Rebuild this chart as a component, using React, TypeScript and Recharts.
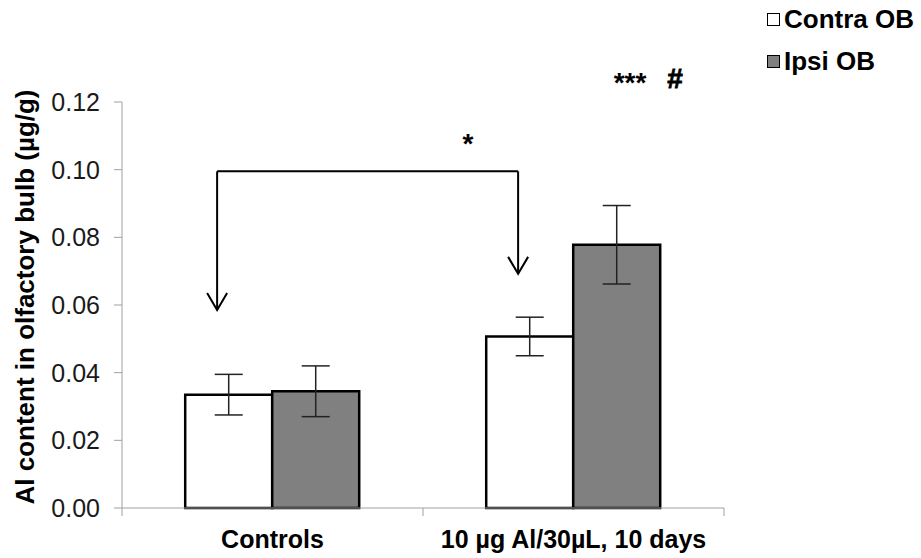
import React from "react";
import { Bar, BarChart, ErrorBar, XAxis, YAxis } from "recharts";

const categories = ["Controls", "10 µg Al/30µL, 10 days"];
const contraOB = [0.0335, 0.0507];
const contraErr = [0.006, 0.0057];
const ipsiOB = [0.0345, 0.0778];
const ipsiErr = [0.0075, 0.0116];
const yTicks = [0, 0.02, 0.04, 0.06, 0.08, 0.1, 0.12];
const legendItems = [
  { label: "Contra OB", fill: "#ffffff" },
  { label: "Ipsi OB", fill: "#808080" },
];

const data = categories.map((name, i) => ({
  name,
  contra: contraOB[i],
  contraErr: contraErr[i],
  ipsi: ipsiOB[i],
  ipsiErr: ipsiErr[i],
}));

const W = 921;
const H = 558;
const margin = { top: 102, right: 197, bottom: 0, left: 0 };
const yAxisWidth = 122;
const xAxisHeight = 50;
const plotLeft = margin.left + yAxisWidth;
const plotRight = W - margin.right;
const plotTop = margin.top;
const plotBottom = H - margin.bottom - xAxisHeight;
const yMax = 0.12;
const band = (plotRight - plotLeft) / categories.length;

const yPx = (v: number) => plotBottom - ((plotBottom - plotTop) * v) / yMax;
const xPx = (cat: number, frac: number) => plotLeft + band * (cat + frac);

// bracket between control and treated contra bars
const bracketY = 0.0995;
const bracketFrac = 0.316;
const tipLeft = 0.0585;
const tipRight = 0.0692;

const font = "Arial, 'Liberation Sans', sans-serif";

const CategoryTick = (props: any) => {
  const { x, y, payload, index } = props;
  const half = payload?.offset || band / 2;
  const last = index === categories.length - 1;
  return (
    <g>
      <line x1={x - half} y1={y - 8} x2={x - half} y2={y} stroke="#a0a0a0" strokeWidth={1} />
      {last && <line x1={x + half} y1={y - 8} x2={x + half} y2={y} stroke="#a0a0a0" strokeWidth={1} />}
      <text
        x={x}
        y={y + 25}
        textAnchor="middle"
        dominantBaseline="middle"
        fontFamily={font}
        fontWeight="bold"
        fontSize={25}
        fill="#000"
      >
        {payload.value}
      </text>
    </g>
  );
};

function Arrow({ x, y1, y2 }: { x: number; y1: number; y2: number }) {
  return (
    <g stroke="#000" strokeWidth={2} fill="none">
      <line x1={x} y1={y1} x2={x} y2={y2} />
      <polyline points={`${x - 10},${y2 - 17} ${x},${y2} ${x + 10},${y2 - 17}`} />
    </g>
  );
}

export default function App() {
  const by = yPx(bracketY);
  const lx = xPx(0, bracketFrac);
  const rx = xPx(1, bracketFrac);
  return (
    <div style={{ position: "absolute", left: 0, top: 0, width: W, height: H, background: "#fff" }}>
      <BarChart
        width={W}
        height={H}
        data={data}
        margin={margin}
        barGap={0}
        barCategoryGap="21%"
      >
        <XAxis
          dataKey="name"
          height={xAxisHeight}
          stroke="#a0a0a0"
          tickLine={false}
          tick={<CategoryTick />}
          interval={0}
        />
        <YAxis
          width={yAxisWidth}
          domain={[0, yMax]}
          ticks={yTicks}
          tickFormatter={(v: number) => v.toFixed(2)}
          stroke="#a0a0a0"
          tickSize={8}
          tickMargin={14}
          tick={{ fill: "#1a1a1a", fontSize: 25, fontFamily: font }}
          label={{
            value: "Al content in olfactory bulb (µg/g)",
            angle: -90,
            position: "insideLeft",
            dx: 20,
            dy: -8,
            style: {
              textAnchor: "middle",
              fontFamily: font,
              fontWeight: "bold",
              fontSize: 26,
              fill: "#000",
            },
          }}
        />
        <Bar dataKey="contra" name="Contra OB" fill="#ffffff" stroke="#000" strokeWidth={2.5} isAnimationActive={false}>
          <ErrorBar dataKey="contraErr" width={14} stroke="#222" strokeWidth={1.5} />
        </Bar>
        <Bar dataKey="ipsi" name="Ipsi OB" fill="#808080" stroke="#000" strokeWidth={2.5} isAnimationActive={false}>
          <ErrorBar dataKey="ipsiErr" width={14} stroke="#222" strokeWidth={1.5} />
        </Bar>
      </BarChart>
      <div
        style={{
          position: "absolute",
          left: 767,
          top: 0,
          fontFamily: font,
          fontWeight: "bold",
          fontSize: 26,
          color: "#000",
          whiteSpace: "nowrap",
        }}
      >
        {legendItems.map((item) => (
          <div key={item.label} style={{ display: "flex", alignItems: "center", height: 45, marginTop: -3 }}>
            <span
              style={{
                display: "inline-block",
                width: 11,
                height: 11,
                border: "1.5px solid #000",
                background: item.fill,
                marginRight: 4,
              }}
            />
            <span>{item.label}</span>
          </div>
        ))}
      </div>
      <svg width={W} height={H} style={{ position: "absolute", left: 0, top: 0, pointerEvents: "none" }}>
        <line x1={lx} y1={by} x2={rx} y2={by} stroke="#000" strokeWidth={2} />
        <Arrow x={lx} y1={by} y2={yPx(tipLeft)} />
        <Arrow x={rx} y1={by} y2={yPx(tipRight)} />
        <text x={468} y={153} textAnchor="middle" fontFamily={font} fontWeight="bold" fontSize={28}>
          *
        </text>
        <text x={630} y={92} textAnchor="middle" fontFamily={font} fontWeight="bold" fontSize={28}>
          ***
        </text>
        <text
          x={675}
          y={88}
          textAnchor="middle"
          fontFamily={font}
          fontWeight="bold"
          fontSize={28}
          stroke="#000"
          strokeWidth={0.8}
        >
          #
        </text>
      </svg>
    </div>
  );
}
